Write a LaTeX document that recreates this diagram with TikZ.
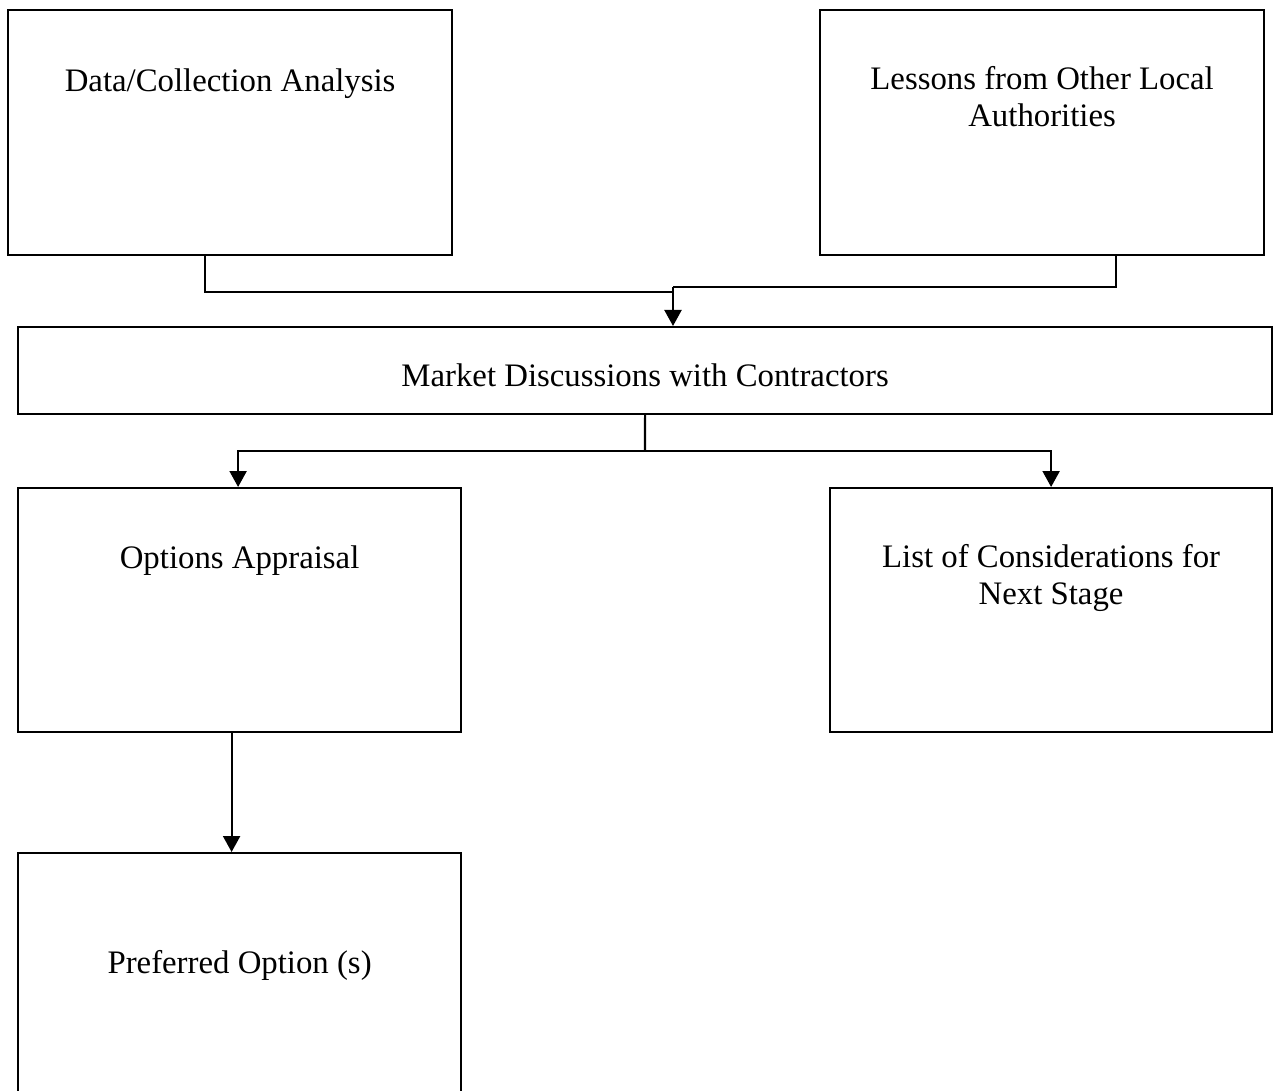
\documentclass[tikz,border=0pt]{standalone}
\usepackage{fontspec}
\setmainfont{Liberation Serif}
\usetikzlibrary{arrows.meta,positioning}

\tikzset{
    box/.style={draw, line width=1.1pt, anchor=north west, inner sep=0pt},
    boxtext/.style={anchor=north, align=center, inner sep=0pt, font=\fontsize{16.4}{18.5}\selectfont},
    link/.style={line width=1.1pt},
    arrow/.style={line width=1.1pt, -{Triangle[width=8.5pt,length=8pt]}},
}

\begin{document}
\begin{tikzpicture}[x=0.5pt, y=-0.5pt]
    \clip (0,0) rectangle (1275,1091);

    % Top row
    \node[box, minimum width=222pt, minimum height=122.5pt] (data) at (7,9) {};
    \node[box, minimum width=222pt, minimum height=122.5pt] (lessons) at (819,9) {};
    \node[boxtext, below=29.5pt of data.north] (dataText) {Data/Collection Analysis};
    \node[boxtext, below=28.5pt of lessons.north] (lessonsText) {Lessons from Other Local\\Authorities};

    % Middle bar
    \node[box, minimum width=627pt, minimum height=43.5pt] (market) at (17,326) {};
    \node[boxtext, below=18.5pt of market.north] (marketText) {Market Discussions with Contractors};

    % Second row
    \node[box, minimum width=221.5pt, minimum height=122pt] (options) at (17,487) {};
    \node[boxtext, below=29pt of options.north] (optionsText) {Options Appraisal};
    \node[box, minimum width=221pt, minimum height=122pt] (next) at (829,487) {};
    \node[boxtext, below=28.5pt of next.north] (nextText) {List of Considerations for\\Next Stage};

    % Bottom box (runs off the page)
    \node[box, minimum width=221.5pt, minimum height=150pt] (preferred) at (17,852) {};
    \node[boxtext, below=49pt of preferred.north] (preferredText) {Preferred Option (s)};

    % Merge into market discussions
    \coordinate (mergeL) at (673,292);
    \coordinate (mergeR) at (673,287);
    \draw[link] ([xshift=-12.5pt]data.south) |- (mergeL);
    \draw[link] ([xshift=37pt]lessons.south) |- (mergeR);
    \draw[arrow] (mergeR) -- (mergeR |- market.north);

    % Split to the two outcomes
    \coordinate (split) at (645,451);
    \draw[link] (market.south) -- (split);
    \draw[arrow] (split) -| ([xshift=-0.75pt]options.north);
    \draw[arrow] (split) -| (next.north);

    % Appraisal to preferred option
    \draw[arrow] ([xshift=-4pt]options.south) -- ([xshift=-4pt]preferred.north);
\end{tikzpicture}
\end{document}
